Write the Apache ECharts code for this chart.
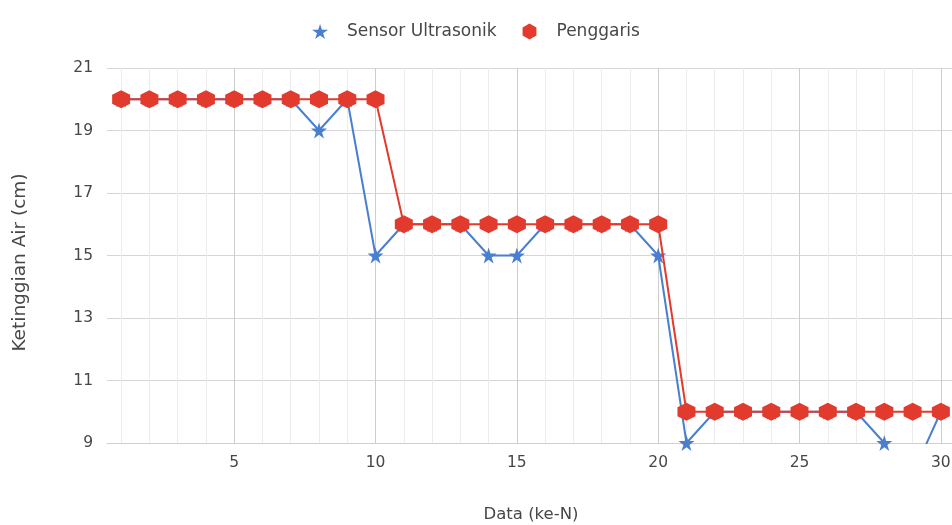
<!DOCTYPE html>
<html>
<head>
<meta charset="utf-8">
<title>Ketinggian Air</title>
<script src="https://cdn.jsdelivr.net/npm/echarts@6/dist/echarts.min.js"></script>
<style>
  html, body { margin: 0; padding: 0; background: #ffffff; }
  #chart { width: 952px; height: 525px; }
</style>
</head>
<body>
<div id="chart"></div>
<script>
// Measurement index (data ke-N)
const dataKe = [1, 2, 3, 4, 5, 6, 7, 8, 9, 10, 11, 12, 13, 14, 15, 16, 17, 18, 19, 20, 21, 22, 23, 24, 25, 26, 27, 28, 29, 30];

// Water level read by the ultrasonic sensor (cm)
const sensorUltrasonik = [20, 20, 20, 20, 20, 20, 20, 19, 20, 15, 16, 16, 16, 15, 15, 16, 16, 16, 16, 15, 9, 10, 10, 10, 10, 10, 10, 9, 8, 10];

// Water level measured with a ruler (cm)
const penggaris = [20, 20, 20, 20, 20, 20, 20, 20, 20, 20, 16, 16, 16, 16, 16, 16, 16, 16, 16, 16, 10, 10, 10, 10, 10, 10, 10, 10, 10, 10];

const seriesNames = ['Sensor Ultrasonik', 'Penggaris'];
const axisTitles = { x: 'Data (ke-N)', y: 'Ketinggian Air (cm)' };

const BLUE = '#4a7fd0';
const RED = '#e23b2e';
const TEXT = '#474747';
const STAR = 'path://M0,-1 L0.2245,-0.309 L0.951,-0.309 L0.363,0.118 L0.588,0.809 L0,0.382 L-0.588,0.809 L-0.363,0.118 L-0.951,-0.309 L-0.2245,-0.309 Z';
const HEXAGON = 'path://M0,-1 L0.866,-0.5 L0.866,0.5 L0,1 L-0.866,0.5 L-0.866,-0.5 Z';

const pairs = (ys) => dataKe.map((x, i) => [x, ys[i]]);

const chart = echarts.init(document.getElementById('chart'), null, { renderer: 'canvas' });

chart.setOption({
  backgroundColor: '#ffffff',
  animation: false,
  textStyle: { fontFamily: '"DejaVu Sans", Verdana, sans-serif' },
  legend: {
    top: 18,
    left: 'center',
    itemGap: 26,
    itemWidth: 16,
    itemHeight: 16,
    textStyle: { color: TEXT, fontSize: 17, padding: [0, 0, 0, 14] },
    data: [
      { name: seriesNames[0], icon: STAR },
      { name: seriesNames[1], icon: HEXAGON }
    ]
  },
  grid: {
    left: 107, right: -3, top: 68, bottom: 82,
    containLabel: false,
    outerBoundsMode: 'none'
  },
  xAxis: {
    type: 'value',
    min: 0.5,
    max: 30.5,
    splitNumber: 6,
    name: axisTitles.x,
    nameLocation: 'middle',
    nameGap: 63,
    nameTextStyle: { color: TEXT, fontSize: 16.5 },
    axisLine: { show: true, lineStyle: { color: '#cfcfcf', width: 1 } },
    axisTick: { show: false },
    axisLabel: {
      color: TEXT, fontSize: 15.5, margin: 12,
      showMinLabel: false, showMaxLabel: false,
      formatter: (v) => (Number.isInteger(v) ? String(v) : '')
    },
    splitLine: { show: true, showMinLine: false, showMaxLine: false, lineStyle: { color: '#cdcdcd', width: 1 } },
    minorTick: { show: false, splitNumber: 5 },
    minorSplitLine: { show: true, lineStyle: { color: '#ececec', width: 1 } }
  },
  yAxis: {
    type: 'value',
    min: 9,
    max: 21,
    interval: 2,
    name: axisTitles.y,
    nameLocation: 'middle',
    nameGap: 77,
    nameTextStyle: { color: TEXT, fontSize: 18.5, padding: [0, 14, 0, 0] },
    axisLine: { show: false },
    axisTick: { show: false },
    axisLabel: { color: TEXT, fontSize: 15.5, margin: 14 },
    splitLine: { show: true, lineStyle: { color: '#d6d6d6', width: 1 } }
  },
  series: [
    {
      name: seriesNames[0],
      type: 'line',
      data: pairs(sensorUltrasonik),
      symbol: STAR,
      symbolSize: 16,
      showAllSymbol: true,
      clip: true,
      itemStyle: { color: BLUE },
      lineStyle: { color: BLUE, width: 2 },
      z: 2
    },
    {
      name: seriesNames[1],
      type: 'line',
      data: pairs(penggaris),
      symbol: HEXAGON,
      symbolSize: 18,
      showAllSymbol: true,
      clip: true,
      itemStyle: { color: RED },
      lineStyle: { color: RED, width: 2 },
      z: 3
    }
  ]
});
</script>
</body>
</html>
